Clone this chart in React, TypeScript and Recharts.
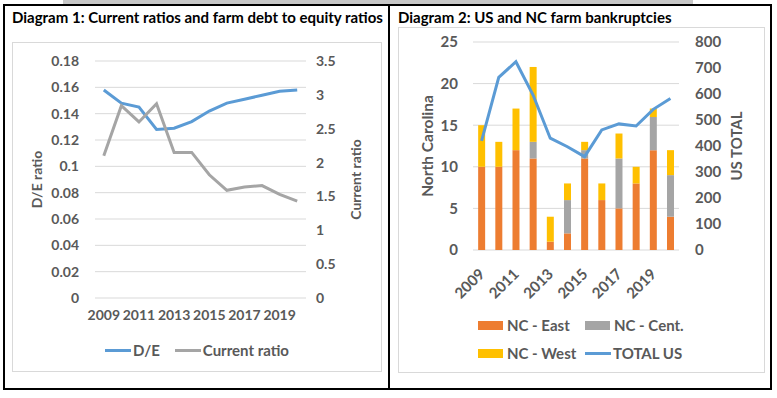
import React from 'react'
import { Bar, CartesianGrid, ComposedChart, Legend, Line, LineChart, XAxis, YAxis } from 'recharts'

const years = ['2009', '2010', '2011', '2012', '2013', '2014', '2015', '2016', '2017', '2018', '2019', '2020']

// Diagram 1
const debtToEquity = [0.158, 0.148, 0.145, 0.128, 0.129, 0.134, 0.142, 0.148, 0.151, 0.154, 0.157, 0.158]
const currentRatio = [2.1, 2.84, 2.6, 2.87, 2.15, 2.15, 1.82, 1.59, 1.64, 1.66, 1.53, 1.43]
const deTicks = [0, 0.02, 0.04, 0.06, 0.08, 0.1, 0.12, 0.14, 0.16, 0.18]
const crTicks = [0, 0.5, 1, 1.5, 2, 2.5, 3, 3.5]
const ratioSeries = ['D/E', 'Current ratio']

// Diagram 2
const ncEast = [10, 10, 12, 11, 1, 2, 11, 6, 5, 8, 12, 4]
const ncCent = [0, 0, 0, 2, 0, 4, 1, 0, 6, 0, 4, 5]
const ncWest = [5, 3, 5, 9, 3, 2, 1, 2, 3, 2, 1, 3]
const usTotal = [420, 664, 724, 596, 430, 397, 359, 462, 485, 477, 541, 583]
const ncTicks = [0, 5, 10, 15, 20, 25]
const usTicks = [0, 100, 200, 300, 400, 500, 600, 700, 800]
const bankruptcySeries = ['NC - East', 'NC - Cent.', 'NC - West', 'TOTAL US']

const FONT = 'Lato, "Liberation Sans", sans-serif'
const TEXT = '#595959'
const GRID = '#D9D9D9'
const BLUE = '#5B9BD5'
const GRAY = '#A5A5A5'
const ORANGE = '#ED7D31'
const YELLOW = '#FFC000'

const ratioData = years.map((year, i) => ({ year, de: debtToEquity[i], current: currentRatio[i] }))
const bankruptcyData = years.map((year, i) => ({
  year,
  east: ncEast[i],
  cent: ncCent[i],
  west: ncWest[i],
  us: usTotal[i],
}))

const tickStyle = { fill: TEXT, fontSize: 14, fontWeight: 700, fontFamily: FONT }
const tickStyle2 = { fill: TEXT, fontSize: 15, fontWeight: 700, fontFamily: FONT }

// recharts sorts legend items by name, put them back in series order
function inOrder(payload: any[] = [], order: string[]) {
  return [...payload].sort((a, b) => order.indexOf(a.value) - order.indexOf(b.value))
}

function LegendItem({ color, type, label }: { color: string; type: string; label: string }) {
  const icon =
    type === 'line' ? (
      <span style={{ display: 'inline-block', width: 26, height: 3, background: color, marginRight: 2 }} />
    ) : (
      <span style={{ display: 'inline-block', width: 25, height: 9, background: color, marginRight: 4 }} />
    )
  return (
    <div style={{ display: 'flex', alignItems: 'center', height: 28 }}>
      {icon}
      <span style={{ color: TEXT, fontSize: 15, fontWeight: 700, fontFamily: FONT, whiteSpace: 'nowrap' }}>{label}</span>
    </div>
  )
}

function RatioLegend(props: any) {
  const items = inOrder(props.payload, ratioSeries)
  return (
    <div style={{ display: 'flex', justifyContent: 'center', gap: 15 }}>
      {items.map((item: any) => (
        <LegendItem key={item.value} color={item.color} type="line" label={item.value} />
      ))}
    </div>
  )
}

function BankruptcyLegend(props: any) {
  const items = inOrder(props.payload, bankruptcySeries)
  return (
    <div style={{ display: 'grid', gridTemplateColumns: '107px 100px', justifyContent: 'center' }}>
      {items.map((item: any) => (
        <LegendItem
          key={item.value}
          color={item.color}
          type={item.type === 'line' ? 'line' : 'rect'}
          label={item.value}
        />
      ))}
    </div>
  )
}

function SlantedTick({ x, y, payload }: any) {
  const px = x + 4
  const py = y + 19
  return (
    <text
      x={px}
      y={py}
      transform={`rotate(-45, ${px}, ${py})`}
      textAnchor="end"
      fill={TEXT}
      fontSize={15}
      fontWeight={700}
      fontFamily={FONT}
    >
      {payload.value}
    </text>
  )
}

const titleStyle: React.CSSProperties = {
  position: 'absolute',
  fontFamily: FONT,
  fontWeight: 700,
  fontSize: 15,
  color: '#000',
  whiteSpace: 'nowrap',
}

export default function App() {
  return (
    <div
      style={{
        position: 'absolute',
        left: 0,
        top: 0,
        width: 777,
        height: 398,
        background: '#fff',
        overflow: 'hidden',
        fontFamily: FONT,
      }}
    >
      <div style={{ position: 'absolute', left: 63, top: 0, width: 630, height: 4, background: '#C8C8C8' }} />
      <div
        style={{
          position: 'absolute',
          left: 3,
          top: 4,
          width: 769,
          height: 386,
          border: '2px solid #000',
          boxSizing: 'border-box',
        }}
      />
      <div style={{ position: 'absolute', left: 388, top: 4, width: 2, height: 386, background: '#000' }} />

      <div style={{ ...titleStyle, left: 12, top: 8 }}>Diagram 1: Current ratios and farm debt to equity ratios</div>
      <div style={{ ...titleStyle, left: 398, top: 8 }}>Diagram 2: US and NC farm bankruptcies</div>

      <div
        style={{
          position: 'absolute',
          left: 12,
          top: 42,
          width: 370,
          height: 330,
          border: `1px solid ${GRID}`,
          boxSizing: 'border-box',
        }}
      />
      <div style={{ position: 'absolute', left: 12, top: 42 }}>
        <LineChart width={370} height={330} data={ratioData} margin={{ top: 19, right: 0, bottom: 0, left: 0 }}>
          <CartesianGrid yAxisId="de" vertical={false} stroke={GRID} strokeWidth={1} />
          <XAxis
            dataKey="year"
            scale="band"
            interval={1}
            axisLine={false}
            tickLine={false}
            height={74}
            tickMargin={6}
            tick={tickStyle}
          />
          <YAxis
            yAxisId="de"
            domain={[0, 0.18]}
            ticks={deTicks}
            width={83}
            axisLine={false}
            tickLine={false}
            tickMargin={10}
            tick={tickStyle}
            tickFormatter={(v) => String(v)}
            label={{
              value: 'D/E ratio',
              angle: -90,
              position: 'insideLeft',
              offset: 25,
              style: { textAnchor: 'middle', fill: TEXT, fontSize: 14, fontWeight: 700, fontFamily: FONT },
            }}
          />
          <YAxis
            yAxisId="cr"
            orientation="right"
            domain={[0, 3.5]}
            ticks={crTicks}
            width={76}
            axisLine={false}
            tickLine={false}
            tickMargin={4}
            tick={tickStyle}
            tickFormatter={(v) => String(v)}
            label={{
              value: 'Current ratio',
              angle: -90,
              position: 'insideRight',
              offset: 26,
              style: { textAnchor: 'middle', fill: TEXT, fontSize: 14, fontWeight: 700, fontFamily: FONT },
            }}
          />
          <Line
            yAxisId="de"
            dataKey="de"
            name="D/E"
            stroke={BLUE}
            strokeWidth={3}
            dot={false}
            type="linear"
            isAnimationActive={false}
          />
          <Line
            yAxisId="cr"
            dataKey="current"
            name="Current ratio"
            stroke={GRAY}
            strokeWidth={3}
            dot={false}
            type="linear"
            isAnimationActive={false}
          />
          <Legend
            verticalAlign="middle"
            align="center"
            layout="horizontal"
            content={<RatioLegend />}
            wrapperStyle={{ left: 0, top: 294, width: 370 }}
          />
        </LineChart>
      </div>

      <div
        style={{
          position: 'absolute',
          left: 398,
          top: 27,
          width: 367,
          height: 346,
          border: `1px solid ${GRID}`,
          boxSizing: 'border-box',
        }}
      />
      <div style={{ position: 'absolute', left: 398, top: 27 }}>
        <ComposedChart
          width={367}
          height={346}
          data={bankruptcyData}
          margin={{ top: 15, right: 0, bottom: 0, left: 0 }}
          barCategoryGap="30%"
        >
          <CartesianGrid yAxisId="nc" vertical={false} stroke={GRID} strokeWidth={1} />
          <XAxis
            dataKey="year"
            interval={1}
            axisLine={false}
            tickLine={false}
            height={123}
            tickMargin={0}
            tick={<SlantedTick />}
          />
          <YAxis
            yAxisId="nc"
            domain={[0, 25]}
            ticks={ncTicks}
            width={75}
            axisLine={false}
            tickLine={false}
            tickMargin={9}
            tick={tickStyle2}
            label={{
              value: 'North Carolina',
              angle: -90,
              position: 'insideLeft',
              offset: 29,
              style: { textAnchor: 'middle', fill: TEXT, fontSize: 15.5, fontWeight: 700, fontFamily: FONT },
            }}
          />
          <YAxis
            yAxisId="us"
            orientation="right"
            domain={[0, 800]}
            ticks={usTicks}
            width={86}
            axisLine={false}
            tickLine={false}
            tickMargin={10}
            tick={tickStyle2}
            label={{
              value: 'US TOTAL',
              angle: -90,
              position: 'insideRight',
              offset: 28,
              style: { textAnchor: 'middle', fill: TEXT, fontSize: 15, fontWeight: 700, fontFamily: FONT },
            }}
          />
          <Bar yAxisId="nc" dataKey="east" name="NC - East" stackId="nc" fill={ORANGE} isAnimationActive={false} />
          <Bar yAxisId="nc" dataKey="cent" name="NC - Cent." stackId="nc" fill={GRAY} isAnimationActive={false} />
          <Bar yAxisId="nc" dataKey="west" name="NC - West" stackId="nc" fill={YELLOW} isAnimationActive={false} />
          <Line
            yAxisId="us"
            dataKey="us"
            name="TOTAL US"
            stroke={BLUE}
            strokeWidth={3}
            dot={false}
            type="linear"
            isAnimationActive={false}
          />
          <Legend
            verticalAlign="middle"
            align="center"
            layout="horizontal"
            content={<BankruptcyLegend />}
            wrapperStyle={{ left: 0, top: 284, width: 367 }}
          />
        </ComposedChart>
      </div>
    </div>
  )
}
